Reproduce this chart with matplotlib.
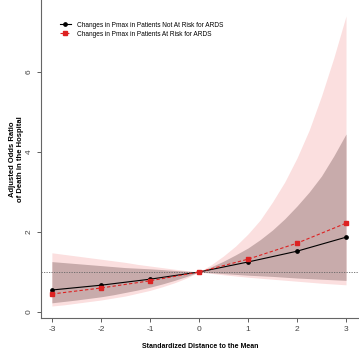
import matplotlib
matplotlib.use("Agg")
import matplotlib.pyplot as plt

plt.rcParams['font.family'] = ['Liberation Sans', 'DejaVu Sans']

# data
x_pts = [-3, -2, -1, 0, 1, 2, 3]
or_not_at_risk = [0.55, 0.67, 0.82, 1.0, 1.25, 1.52, 1.87]
or_at_risk = [0.45, 0.60, 0.78, 1.0, 1.32, 1.72, 2.22]

x_band = [-3, -2.75, -2.5, -2.25, -2, -1.75, -1.5, -1.25, -1, -0.75, -0.5, -0.25, 0,
          0.25, 0.5, 0.75, 1, 1.25, 1.5, 1.75, 2, 2.25, 2.5, 2.75, 3]
at_risk_upper = [1.48, 1.44, 1.40, 1.36, 1.32, 1.28, 1.24, 1.19, 1.15, 1.11, 1.07, 1.035, 1.0,
                 1.18, 1.40, 1.65, 1.95, 2.30, 2.75, 3.25, 3.85, 4.55, 5.40, 6.35, 7.40]
at_risk_lower = [0.15, 0.18, 0.22, 0.26, 0.30, 0.35, 0.40, 0.47, 0.54, 0.63, 0.73, 0.85, 1.0,
                 0.965, 0.93, 0.90, 0.87, 0.845, 0.82, 0.795, 0.77, 0.745, 0.72, 0.70, 0.68]
not_upper = [1.26, 1.235, 1.21, 1.185, 1.16, 1.135, 1.11, 1.095, 1.08, 1.06, 1.04, 1.02, 1.0,
             1.13, 1.27, 1.43, 1.60, 1.81, 2.05, 2.33, 2.65, 3.00, 3.40, 3.90, 4.45]
not_lower = [0.23, 0.265, 0.30, 0.34, 0.38, 0.43, 0.49, 0.55, 0.62, 0.70, 0.79, 0.89, 1.0,
             0.98, 0.96, 0.94, 0.92, 0.905, 0.89, 0.87, 0.85, 0.835, 0.82, 0.805, 0.79]

xticks = [-3, -2, -1, 0, 1, 2, 3]
yticks = [0, 2, 4, 6]
labels = ["Changes in Pmax in Patients Not At Risk for ARDS",
          "Changes in Pmax in Patients At Risk for ARDS"]

fig = plt.figure(figsize=(3.59, 3.51), dpi=100)
ax = fig.add_axes([0.114, 0.094, 0.886, 0.906])

ax.fill_between(x_band, at_risk_lower, at_risk_upper, color='#fbdfdf', linewidth=0)
ax.fill_between(x_band, not_lower, not_upper, color='#c8abab', linewidth=0)
ax.axhline(1, color='#666666', linestyle=(0, (1.5, 1.5)), linewidth=0.6)

ax.plot(x_pts, or_not_at_risk, color='black', linewidth=0.8, marker='o',
        markersize=2.4, label=labels[0])
ax.plot(x_pts, or_at_risk, color='#dd2222', linewidth=0.8, linestyle=(0, (3, 2)),
        marker='s', markersize=3, label=labels[1])

ax.set_xlim(-3.224, 3.265)
ax.set_ylim(-0.15, 7.8)
ax.set_xticks(xticks)
ax.set_yticks(yticks)
ax.set_xticklabels([str(t) for t in xticks])
ax.set_yticklabels([str(t) for t in yticks], rotation=90, va='center')

for s in ['top', 'right']:
    ax.spines[s].set_visible(False)
for s in ['left', 'bottom']:
    ax.spines[s].set_color('#666666')
    ax.spines[s].set_linewidth(0.8)
ax.tick_params(colors='#444444', labelsize=6, length=3, width=0.6, pad=3)

ax.set_xlabel("Standardized Distance to the Mean", fontsize=5, fontweight='bold',
              labelpad=7)
ax.set_ylabel("Adjusted Odds Ratio\nof Death in the Hospital", fontsize=5.5,
              fontweight='bold', labelpad=1)

ax.legend(loc='upper left', bbox_to_anchor=(0.04, 0.95), frameon=False,
          fontsize=4.7, handlelength=1.7, labelspacing=0.3, handletextpad=1.0)

fig.savefig("out.png", dpi=100)
